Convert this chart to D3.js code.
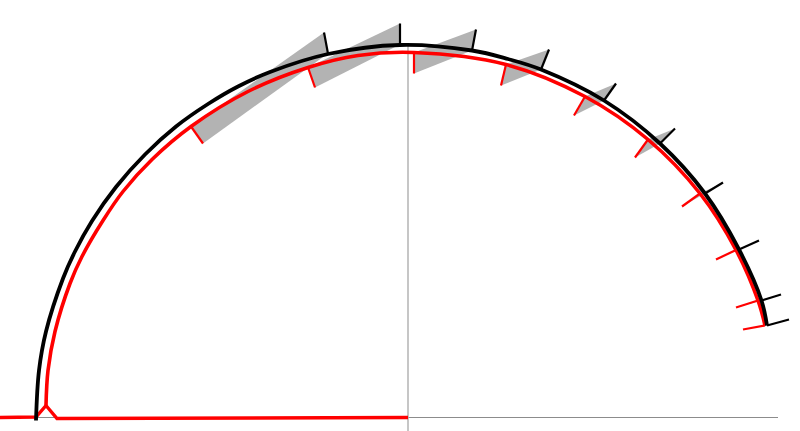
<!DOCTYPE html>
<html>
<head>
<meta charset="utf-8">
<script src="https://cdnjs.cloudflare.com/ajax/libs/d3/7.8.5/d3.min.js"></script>
<style>
    html, body { margin: 0; padding: 0; background: #fff; }
    svg { display: block; }
</style>
</head>
<body>
<div id="chart"></div>
<script>
/* Values, origin at the crossing of the two axes */
const archX = [-372, -369, -362, -345, -333, -316, -292, -263, -232, -200, -170, -138, -80, -8, 64, 100, 133, 196, 252, 297, 331, 353.5, 359];
const archY = [-3, 47, 86, 139, 166, 196.5, 230.5, 263, 291, 313.5, 331, 345.5, 363.5, 372.5, 367, 358.5, 348, 317, 274, 224, 168, 117, 92];

const deformedX = [-362, -360, -353, -338, -326, -305, -285, -256, -217, -160, -100, -50, 6, 98, 177, 240, 292, 328, 350, 357];
const deformedY = [12, 47, 86, 134, 161, 197, 226, 258, 291, 326, 350, 362, 365, 353, 321, 278, 224, 167.5, 117, 92];

const supportX = [-408, -372, -362, -351, 0];
const supportY = [0, 0.5, 12, -1, 0];

// black ticks: foot on the arch and tip
const blackFootX = [-80, -8, 64, 133, 196, 252, 297, 331, 353.5, 359];
const blackFootY = [364, 373, 367, 348, 317, 274, 224, 168, 117, 92];
const blackTipX = [-84, -8, 68, 141, 208, 267, 315, 351, 373, 381];
const blackTipY = [385, 394, 388, 368, 334, 289, 235, 177, 123, 98];

// red ticks: foot on the deformed arch and tip
const redFootX = [-217, -100, 6, 98, 177, 240, 292, 328, 350, 357];
const redFootY = [291, 350, 365, 353, 321, 278, 224, 167.5, 117, 92];
const redTipX = [-205, -93, 6, 93, 166, 227, 274, 308, 328, 335];
const redTipY = [274, 330, 344, 332, 302, 260, 211, 158, 110, 88];

const axisXEnds = [-372, 370];
const axisYEnds = [-14, 372];

const width = 800, height = 431;

const x = d3.scaleLinear().domain([-408, 392]).range([0, width]);
const y = d3.scaleLinear().domain([417.5, -13.5]).range([0, height]);

const svg = d3.select('#chart').append('svg')
    .attr('width', width)
    .attr('height', height);

const line = d3.line().x(d => x(d[0])).y(d => y(d[1]));
const smooth = d3.line().x(d => x(d[0])).y(d => y(d[1])).curve(d3.curveCatmullRom.alpha(0.5));

/* Shaded band: black tip joins red foot, red tip joins black foot */
svg.append('g').selectAll('path')
    .data(blackFootX.map((_, i) => [
        [blackFootX[i], blackFootY[i]],
        [blackTipX[i], blackTipY[i]],
        [redFootX[i], redFootY[i]],
        [redTipX[i], redTipY[i]],
    ]))
    .join('path')
    .attr('d', d => line(d) + 'Z')
    .attr('fill', '#b3b3b3')
    .attr('stroke', 'none');

/* Axes */
svg.append('line')
    .attr('x1', x(axisXEnds[0])).attr('x2', x(axisXEnds[1]))
    .attr('y1', y(0)).attr('y2', y(0))
    .attr('stroke', '#8c8c8c').attr('stroke-width', 1.2);
svg.append('line')
    .attr('x1', x(0)).attr('x2', x(0))
    .attr('y1', y(axisYEnds[0])).attr('y2', y(axisYEnds[1]))
    .attr('stroke', '#b3b3b3').attr('stroke-width', 1.5);

/* Deformed shape */
svg.append('path')
    .datum(supportX.map((d, i) => [d, supportY[i]]))
    .attr('d', line)
    .attr('fill', 'none').attr('stroke', '#ff0000').attr('stroke-width', 3.4);
svg.append('path')
    .datum(deformedX.map((d, i) => [d, deformedY[i]]))
    .attr('d', smooth)
    .attr('fill', 'none').attr('stroke', '#ff0000').attr('stroke-width', 3.6);
svg.append('g').selectAll('line')
    .data(redFootX.map((_, i) => i))
    .join('line')
    .attr('x1', i => x(redFootX[i])).attr('y1', i => y(redFootY[i]))
    .attr('x2', i => x(redTipX[i])).attr('y2', i => y(redTipY[i]))
    .attr('stroke', '#ff0000').attr('stroke-width', 2.2);

/* Original arch */
svg.append('path')
    .datum(archX.map((d, i) => [d, archY[i]]))
    .attr('d', smooth)
    .attr('fill', 'none').attr('stroke', '#000').attr('stroke-width', 3.8);
svg.append('g').selectAll('line')
    .data(blackFootX.map((_, i) => i))
    .join('line')
    .attr('x1', i => x(blackFootX[i])).attr('y1', i => y(blackFootY[i]))
    .attr('x2', i => x(blackTipX[i])).attr('y2', i => y(blackTipY[i]))
    .attr('stroke', '#000').attr('stroke-width', 2.2);
</script>
</body>
</html>
